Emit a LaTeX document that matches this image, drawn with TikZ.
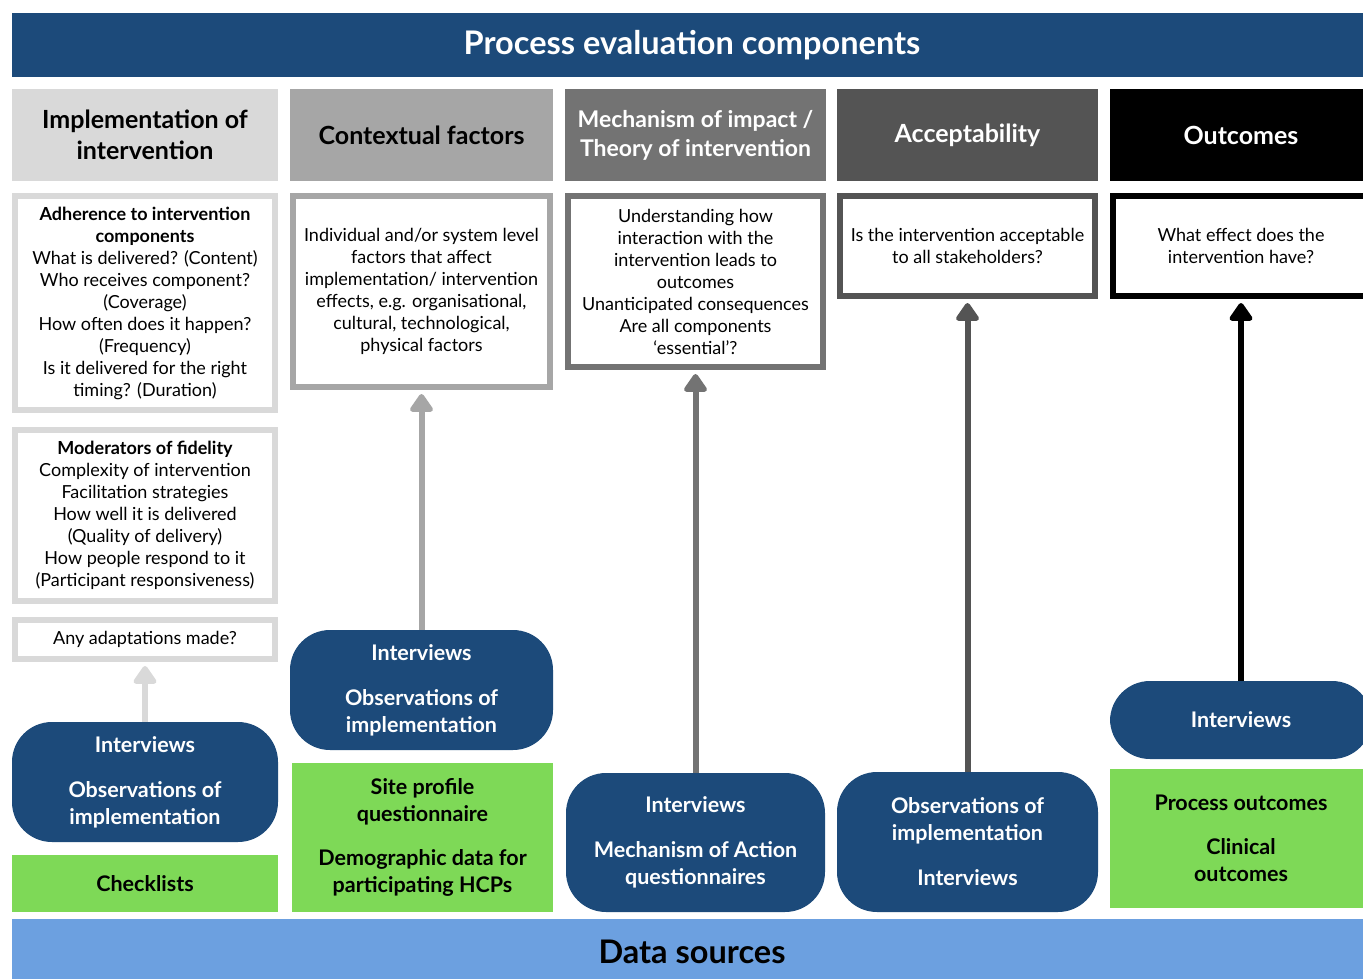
\documentclass[tikz,border=0pt]{standalone}
\usepackage{fontspec}
\setmainfont{Lato}
\usepackage{tikz}
\usetikzlibrary{arrows.meta}

\definecolor{navy}{HTML}{1C4A7A}
\definecolor{skyblue}{HTML}{6CA0E0}
\definecolor{leaf}{HTML}{7ED957}
\definecolor{grayA}{HTML}{D9D9D9}
\definecolor{grayB}{HTML}{A6A6A6}
\definecolor{grayC}{HTML}{737373}
\definecolor{grayD}{HTML}{545454}

\begin{document}
\begin{tikzpicture}[x=1pt,y=-1pt,
  band/.style={minimum width=1360pt,inner sep=0pt,font=\fontsize{32.5}{38}\selectfont\bfseries},
  head/.style={minimum height=92pt,inner sep=0pt,align=center,font=\fontsize{25}{31}\selectfont\bfseries},
  info/.style={draw,line width=6pt,fill=white,inner sep=0pt,align=center,font=\fontsize{18}{22}\selectfont},
  source/.style={fill=navy,rounded corners=40pt,text=white,inner sep=0pt,align=center,font=\fontsize{21.5}{27}\selectfont\bfseries},
  data/.style={fill=leaf,inner sep=0pt,align=center,font=\fontsize{21.5}{27}\selectfont\bfseries},
  link/.style={line width=6pt,-{Triangle[width=26pt,length=20pt,round]},shorten >=4pt}]
  \path[use as bounding box,fill=white] (0,0) rectangle (1363,979);

  % top and bottom bands
  \node[band,fill=navy,text=white,minimum height=64pt] (title) at (692,45) {\raisebox{-2pt}{Process evaluation components}};
  \node[band,fill=skyblue,minimum height=66pt] (datasrc) at (692,952) {Data sources};

  % column headers
  \node[head,fill=grayA,minimum width=266pt] (h1) at (145,135) {Implementation of\\intervention};
  \node[head,fill=grayB,minimum width=263pt] (h2) at (421.5,135) {Contextual factors};
  \node[head,fill=grayC,minimum width=261pt,text=white,font=\fontsize{23}{29}\selectfont\bfseries] (h3) at (695.5,135) {Mechanism of impact /\\Theory of intervention};
  \node[head,fill=grayD,minimum width=261pt,text=white] (h4) at (967.5,135) {Acceptability};
  \node[head,fill=black,minimum width=262pt,text=white] (h5) at (1241,135) {Outcomes};

  % components
  \node[info,draw=grayA,minimum width=260pt,minimum height=214pt] (adhere) at (145,303)
    {\textbf{Adherence to intervention}\\\textbf{components}\\What is delivered? (Content)\\Who receives component?\\(Coverage)\\How often does it happen?\\(Frequency)\\Is it delivered for the right\\timing? (Duration)};
  \node[info,draw=grayA,minimum width=260pt,minimum height=171pt] (moder) at (145,515.5)
    {\textbf{Moderators of fidelity}\\Complexity of intervention\\Facilitation strategies\\How well it is delivered\\(Quality of delivery)\\How people respond to it\\(Participant responsiveness)};
  \node[info,draw=grayA,minimum width=260pt,minimum height=39pt] (adapt) at (145,639.5) {Any adaptations made?};
  \node[info,draw=grayB,minimum width=257pt,minimum height=191pt] (context) at (421.5,291.5)
    {Individual and/or system level\\factors that affect\\implementation/ intervention\\effects, e.g. organisational,\\cultural, technological,\\physical factors};
  \node[info,draw=grayC,minimum width=255pt,minimum height=171pt] (mech) at (695.5,281.5)
    {Understanding how\\interaction with the\\intervention leads to\\outcomes\\Unanticipated consequences\\Are all components\\‘essential’?};
  \node[info,draw=grayD,minimum width=255pt,minimum height=100pt] (accept) at (967.5,246)
    {Is the intervention acceptable\\to all stakeholders?};
  \node[info,draw=black,minimum width=256pt,minimum height=100pt] (effect) at (1241,246)
    {What effect does the\\intervention have?};

  % data sources
  \node[source,minimum width=266pt,minimum height=120pt] (src1) at (145,782) {Interviews\\[18pt]Observations of\\implementation};
  \node[source,minimum width=263pt,minimum height=120pt] (src2) at (421.5,690) {Interviews\\[18pt]Observations of\\implementation};
  \node[source,minimum width=259pt,minimum height=139pt] (src3) at (695.5,842.5) {Interviews\\[18pt]Mechanism of Action\\questionnaires};
  \node[source,minimum width=261pt,minimum height=140pt] (src4) at (967.5,842) {Observations of\\implementation\\[18pt]Interviews};
  \node[source,minimum width=262pt,minimum height=78pt] (src5) at (1241,720) {Interviews};

  \node[data,minimum width=266pt,minimum height=57pt] (check) at (145,883.5) {Checklists};
  \node[data,minimum width=261pt,minimum height=149pt] (site) at (422.5,837.5) {Site profile\\questionnaire\\[17pt]Demographic data for\\participating HCPs};
  \node[data,minimum width=262pt,minimum height=139pt] (clinic) at (1241,838.5) {Process outcomes\\[17pt]Clinical\\outcomes};

  % arrows
  \draw[link,grayA] (src1.north) -- (adapt.south);
  \draw[link,grayB] (src2.north) -- (context.south);
  \draw[link,grayC] (src3.north) -- (mech.south);
  \draw[link,grayD] (src4.north) -- (accept.south);
  \draw[link,black] (src5.north) -- (effect.south);
\end{tikzpicture}
\end{document}
